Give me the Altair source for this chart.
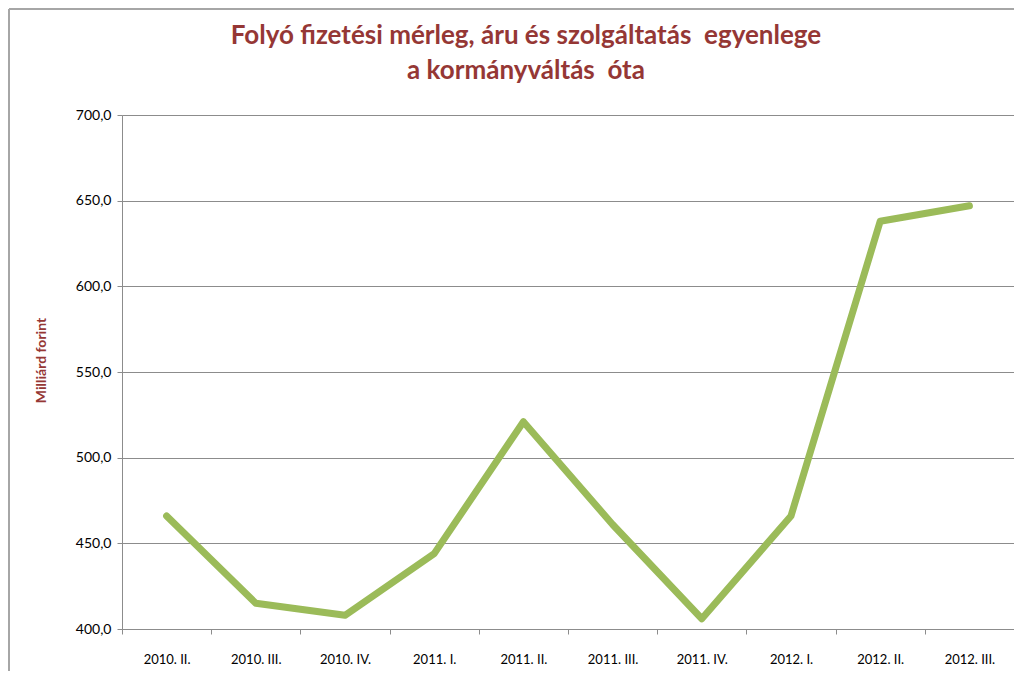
import altair as alt
import pandas as pd

categories = ["2010. II.", "2010. III.", "2010. IV.", "2011. I.", "2011. II.",
              "2011. III.", "2011. IV.", "2012. I.", "2012. II.", "2012. III."]
values = [466, 415, 408, 444, 521, 461, 406, 466, 638, 647]
y_ticks = [400, 450, 500, 550, 600, 650, 700]

df = pd.DataFrame({"cat": categories, "val": values})

W, H = 892, 514
FONT = "Lato"
DARKRED = "#953735"
GRID = "#8c8c8c"
FRAME = "#a6a6a6"

line = alt.Chart(df).mark_line(
    color="#9BBB59", strokeWidth=7, strokeCap="round", strokeJoin="round"
).encode(
    x=alt.X("cat:N", sort=categories,
            scale=alt.Scale(paddingInner=0, paddingOuter=0),
            axis=alt.Axis(title=None, tickBand="extent", tickSize=5,
                          tickColor=GRID, domainColor=GRID, labelAngle=0,
                          labelFont=FONT, labelFontSize=13, labelColor="#000000",
                          labelPadding=19, grid=False)),
    y=alt.Y("val:Q",
            scale=alt.Scale(domain=[400, 700], nice=False, zero=False),
            axis=alt.Axis(title="Milliárd forint", values=y_ticks,
                          labelExpr="replace(format(datum.value, '.1f'), '.', ',')",
                          tickSize=5, tickColor=GRID, domainColor=GRID,
                          gridColor=GRID, gridWidth=1,
                          labelFont=FONT, labelFontSize=14, labelColor="#000000",
                          labelPadding=6,
                          titleFont=FONT, titleFontSize=14, titleFontWeight="bold",
                          titleColor=DARKRED, titleX=-81, titleY=245,
                          titleAngle=-90, titleAlign="center", titleBaseline="middle")),
)

top_edge = alt.Chart(df).mark_rule(stroke=FRAME, strokeWidth=2, clip=False).encode(
    x=alt.value(-113), x2=alt.value(905), y=alt.value(-106)
)
left_edge = alt.Chart(df).mark_rule(stroke=FRAME, strokeWidth=2, clip=False).encode(
    x=alt.value(-113), y=alt.value(-106), y2=alt.value(560)
)

chart = alt.layer(top_edge, left_edge, line).properties(
    width=W, height=H,
    title=alt.TitleParams(
        text=["Folyó fizetési mérleg, áru és szolgáltatás\u00a0\u00a0egyenlege",
              "a kormányváltás\u00a0\u00a0óta"],
        font=FONT, fontSize=26, fontWeight="bold", color=DARKRED,
        anchor="middle", offset=0, lineHeight=35, dy=76, dx=-42, frame="group",
    ),
    padding={"left": 114, "top": 107, "right": 0, "bottom": 42},
    autosize=alt.AutoSizeParams(type="none"),
).configure_view(stroke=None).configure(background="white")

chart.save("out.html", embed_options={"renderer": "svg", "actions": False})
